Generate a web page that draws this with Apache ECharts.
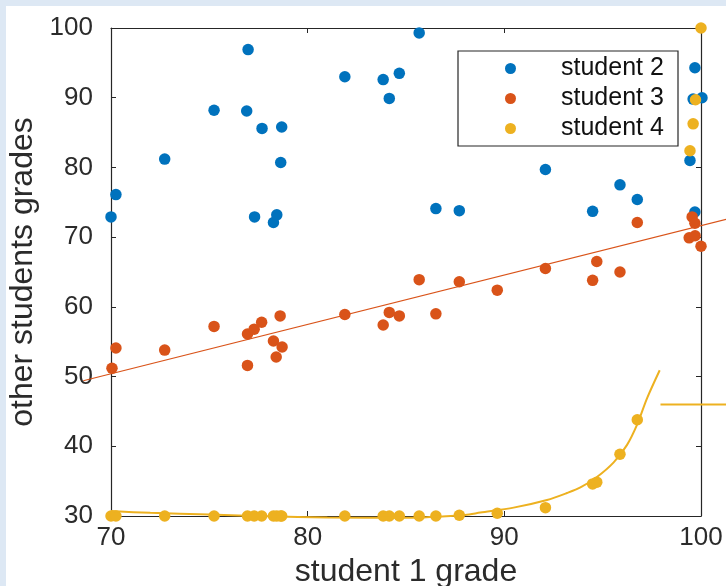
<!DOCTYPE html>
<html>
<head>
<meta charset="utf-8">
<script src="https://cdn.jsdelivr.net/npm/echarts@6/dist/echarts.min.js"></script>
<style>
  html, body { margin: 0; padding: 0; background: #dde8f4; width: 726px; height: 586px; overflow: hidden; }
  #chart { position: absolute; left: 6px; top: 6px; width: 720px; height: 580px; background: #ffffff; }
</style>
</head>
<body>
<div id="chart"></div>
<script>
// ---- data ----
const xTicks = [70, 80, 90, 100];
const yTicks = [30, 40, 50, 60, 70, 80, 90, 100];
const legendNames = ['student 2', 'student 3', 'student 4'];

const student2 = [
  [70.0, 72.9], [70.25, 76.1], [72.73, 81.2], [75.24, 88.2], [76.97, 96.9], [76.9, 88.1],
  [77.68, 85.6], [78.68, 85.8], [78.63, 80.7], [77.3, 72.9], [78.26, 72.1], [78.43, 73.2],
  [81.89, 93.0], [85.67, 99.3], [83.84, 92.6], [84.66, 93.5], [84.15, 89.9], [86.52, 74.1],
  [87.71, 73.8], [92.09, 79.7], [94.49, 73.7], [95.88, 77.5], [96.76, 75.4], [99.69, 94.3],
  [99.6, 89.8], [100.05, 90.0], [99.44, 81.0], [99.69, 73.6]
];

const student3 = [
  [70.05, 51.2], [70.25, 54.1], [72.73, 53.8], [75.24, 57.2], [76.94, 51.6], [76.94, 56.1],
  [77.28, 56.8], [77.66, 57.8], [78.6, 58.7], [78.26, 55.1], [78.7, 54.25], [78.4, 52.8],
  [81.89, 58.9], [83.84, 57.4], [84.15, 59.2], [84.66, 58.7], [86.52, 59.0], [85.67, 63.9],
  [87.71, 63.6], [89.64, 62.4], [92.09, 65.5], [94.7, 66.5], [94.49, 63.8], [95.88, 65.0],
  [96.76, 72.1], [99.55, 72.9], [99.69, 72.0], [99.4, 69.9], [99.7, 70.2], [100.0, 68.7]
];

const student4 = [
  [70.0, 30.0], [70.25, 30.0], [72.73, 30.0], [75.24, 30.0], [76.94, 30.0], [77.28, 30.0],
  [77.66, 30.0], [78.26, 30.0], [78.43, 30.0], [78.63, 30.0], [78.68, 30.0], [81.89, 30.0],
  [83.84, 30.0], [84.15, 30.0], [84.66, 30.0], [85.67, 30.0], [86.52, 30.0], [87.71, 30.1],
  [89.64, 30.4], [92.09, 31.2], [94.49, 34.6], [94.7, 34.85], [95.88, 38.85], [96.76, 43.8],
  [99.44, 82.4], [99.6, 86.25], [99.72, 89.7], [100.0, 100.0]
];

// linear fit line of student 3 (end points)
const fitLine3 = [[68.59, 49.4], [101.5, 72.7]];

// fitted curve of student 4
const fitCurve4 = [
  [70.0, 30.7], [72.0, 30.45], [75.0, 30.2], [78.0, 29.95], [81.0, 29.8], [85.0, 29.75],
  [88.0, 30.15], [88.78, 30.49], [90.47, 31.2], [92.17, 32.3], [93.19, 33.3], [93.87, 34.1],
  [94.71, 35.6], [95.56, 37.7], [96.24, 40.2], [96.75, 43.1], [97.26, 46.9], [97.9, 50.9]
];

// short horizontal segment right of the plot
const flatSegment4 = [[97.94, 46.0], [101.5, 46.0]];

const colors = ['#0072BD', '#D95319', '#EDB120'];
const font = "'Liberation Sans', Arial, Helvetica, sans-serif";
const axisColor = '#262626';
const textColor = '#2b2b2b';

const chart = echarts.init(document.getElementById('chart'), null, { renderer: 'canvas' });

function scatter(name, data, color) {
  return {
    name: name, type: 'scatter', data: data, symbol: 'circle', symbolSize: 11.5,
    itemStyle: { color: color, opacity: 1 }, clip: false, z: 3
  };
}

// unclipped polyline through the axis scales (custom series)
function polyline(points, color, width, smooth, z) {
  return {
    type: 'custom', data: points, clip: false, silent: true, z: z,
    encode: { x: 0, y: 1 },
    renderItem: function (params, api) {
      if (params.dataIndex !== 0) return null;
      const pts = points.map(function (p) { return api.coord(p); });
      return {
        type: 'polyline',
        shape: { points: pts, smooth: smooth },
        style: { stroke: color, lineWidth: width, fill: null }
      };
    }
  };
}

const axisBase = {
  type: 'value', interval: 10,
  axisLine: { show: true, lineStyle: { color: axisColor, width: 1.2 } },
  axisTick: { show: true, inside: true, length: 5, lineStyle: { color: axisColor } },
  splitLine: { show: false }
};

const option = {
  animation: false,
  backgroundColor: '#ffffff',
  textStyle: { fontFamily: font },
  grid: { left: 105, top: 22, right: 25, bottom: 70, containLabel: false, outerBoundsMode: 'none' },
  legend: {
    data: legendNames,
    orient: 'vertical',
    left: 452, top: 45,
    backgroundColor: '#ffffff',
    borderColor: axisColor, borderWidth: 1.2,
    padding: [5, 9, 5, 47],
    itemGap: 5,
    itemWidth: 11, itemHeight: 11,
    icon: 'circle',
    textStyle: { fontFamily: font, fontSize: 25, color: '#111', width: 108, padding: [0, 0, 0, 40], lineHeight: 24 }
  },
  xAxis: [Object.assign({}, axisBase, {
    min: xTicks[0], max: xTicks[xTicks.length - 1], position: 'bottom',
    axisLabel: { fontFamily: font, fontSize: 26, color: textColor, margin: 9 },
    name: 'student 1 grade', nameLocation: 'middle', nameGap: 40,
    nameTextStyle: { fontFamily: font, fontSize: 32, color: textColor }
  }), Object.assign({}, axisBase, {
    min: xTicks[0], max: xTicks[xTicks.length - 1], position: 'top',
    axisLabel: { show: false }
  })],
  yAxis: [Object.assign({}, axisBase, {
    min: yTicks[0], max: yTicks[yTicks.length - 1], position: 'left',
    axisLabel: { fontFamily: font, fontSize: 26, color: textColor, margin: 18 },
    name: 'other students grades', nameLocation: 'middle', nameGap: 70,
    nameTextStyle: { fontFamily: font, fontSize: 32, color: textColor }
  }), Object.assign({}, axisBase, {
    min: yTicks[0], max: yTicks[yTicks.length - 1], position: 'right',
    axisLabel: { show: false }
  })],
  series: [
    scatter(legendNames[0], student2, colors[0]),
    polyline(fitLine3, colors[1], 1.2, 0, 3),
    scatter(legendNames[1], student3, colors[1]),
    {
      type: 'line', data: fitCurve4, symbol: 'none', clip: false, smooth: 0.3, z: 4,
      lineStyle: { color: colors[2], width: 2 }, silent: true
    },
    polyline(flatSegment4, colors[2], 2, 0, 4),
    scatter(legendNames[2], student4, colors[2])
  ]
};

chart.setOption(option);
</script>
</body>
</html>
